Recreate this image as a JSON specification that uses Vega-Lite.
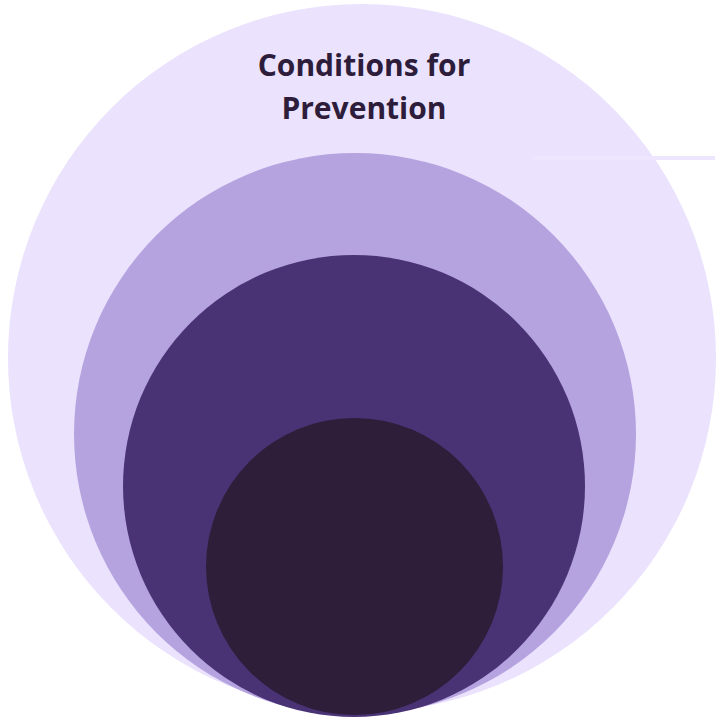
{
  "$schema": "https://vega.github.io/schema/vega-lite/v6.json",
  "width": 717,
  "height": 717,
  "autosize": {"type": "fit", "contains": "padding"},
  "padding": 0,
  "background": "white",
  "view": {"stroke": null},
  "layer": [
    {
      "data": {"values": [
        {"level": 1, "x": 363, "y": 358, "d": 708},
        {"level": 2, "x": 356, "y": 434, "d": 562},
        {"level": 3, "x": 355, "y": 486, "d": 462},
        {"level": 4, "x": 355.5, "y": 566.5, "d": 297}
      ]},
      "mark": {"type": "point", "shape": "circle", "filled": true, "opacity": 1, "strokeWidth": 0},
      "encoding": {
        "x": {"field": "x", "type": "quantitative", "scale": {"domain": [0, 717]}, "axis": null},
        "y": {"field": "y", "type": "quantitative", "scale": {"domain": [0, 717], "reverse": true}, "axis": null},
        "size": {"field": "d", "type": "quantitative", "scale": {"type": "pow", "exponent": 2, "domain": [0, 717], "range": [0, 514089]}, "legend": null},
        "color": {"field": "level", "type": "ordinal", "scale": {"domain": [1, 2, 3, 4], "range": ["#ebe2fd", "#b5a3e0", "#4a3375", "#2e1e39"]}, "legend": null},
        "order": {"field": "level", "type": "quantitative"}
      }
    },
    {
      "data": {"values": [{"x": 533, "x2": 717, "y": 158}]},
      "mark": {"type": "rule", "color": "#eee6fe", "strokeWidth": 4},
      "encoding": {
        "x": {"field": "x", "type": "quantitative", "scale": {"domain": [0, 717]}, "axis": null},
        "x2": {"field": "x2"},
        "y": {"field": "y", "type": "quantitative", "scale": {"domain": [0, 717], "reverse": true}, "axis": null}
      }
    },
    {
      "data": {"values": [{"x": 365, "y": 67, "label": "Conditions for\nPrevention"}]},
      "mark": {"type": "text", "font": "Open Sans", "fontWeight": "bold", "fontSize": 30, "color": "#2d1d3a", "align": "center", "baseline": "middle", "lineBreak": "\n", "lineHeight": 43},
      "encoding": {
        "x": {"field": "x", "type": "quantitative", "scale": {"domain": [0, 717]}, "axis": null},
        "y": {"field": "y", "type": "quantitative", "scale": {"domain": [0, 717], "reverse": true}, "axis": null},
        "text": {"field": "label"}
      }
    }
  ]
}
